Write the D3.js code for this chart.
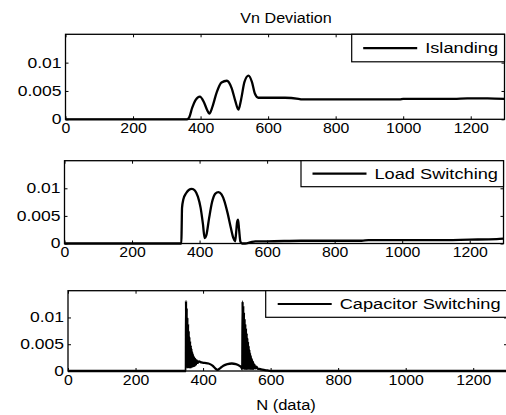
<!DOCTYPE html>
<html lang="en">
<head>
    <meta charset="UTF-8">
    <title>Vn Deviation</title>
    <script src="https://d3js.org/d3.v7.min.js"></script>
    <style>
        body { margin: 0; background: #fff; }
        text { font-family: "Liberation Sans", Arial, sans-serif; fill: #000; }
    </style>
</head>
<body>
<div id="chart"></div>

<script>
    // values
    var xTicks = [0, 200, 400, 600, 800, 1000, 1200];
    var yTicks = [0, 0.005, 0.01];
    var yTickLabels = ["0", "0.005", "0.01"];

    var islandingN = [0, 360, 366, 375, 385, 398, 410, 419, 426, 435, 448, 462, 478, 492, 503, 512, 520, 530, 542, 552, 561, 571, 585, 650, 690, 700, 800, 900, 990, 1000, 1020, 1050, 1150, 1190, 1200, 1250, 1300];
    var islandingV = [0, 0, 0.0003, 0.0020, 0.0034, 0.0040, 0.0030, 0.0017, 0.0010, 0.0022, 0.0048, 0.0065, 0.0068, 0.0055, 0.0032, 0.0017, 0.0035, 0.0066, 0.0077, 0.0066, 0.0045, 0.0038, 0.0038, 0.0038, 0.0036, 0.0035, 0.0035, 0.0035, 0.0035, 0.0036, 0.0036, 0.0036, 0.0036, 0.0037, 0.0037, 0.0037, 0.0036];

    var loadN = [0, 346, 347, 348, 352, 360, 368, 377, 386, 395, 403, 410, 415, 420, 428, 437, 446, 456, 465, 474, 483, 492, 500, 505, 508, 511, 514, 517, 521, 526, 535, 545, 555, 565, 600, 700, 800, 880, 900, 1000, 1100, 1200, 1280, 1300];
    var loadV = [0, 0, 0.0030, 0.0064, 0.0080, 0.0091, 0.0097, 0.0099, 0.0096, 0.0085, 0.0065, 0.0035, 0.0010, 0.0015, 0.0045, 0.0075, 0.0090, 0.0093, 0.0089, 0.0076, 0.0055, 0.0030, 0.0010, 0.0004, 0.0018, 0.0038, 0.0043, 0.0025, 0.0003, 0, 0, 0.0001, 0.0003, 0.0004, 0.0004, 0.0005, 0.0005, 0.0005, 0.0006, 0.0006, 0.0006, 0.0007, 0.0008, 0.0009];

    var capN = [0, 349, 349.5, 350.5, 351.5, 352.5, 353.5, 354.5, 355.5, 356.5, 357.5, 358.5, 359.5, 360.5, 361.5, 362.5, 363.5, 364.5, 365.5, 366.5, 367.5, 368.5, 369.5, 370.5, 371.5, 372.5, 374, 375.5, 377, 379, 381, 384, 388, 395, 405, 416, 428, 436, 443, 450, 460, 472, 485, 497, 507, 514, 516,
        517, 518, 519, 520, 521, 522, 523, 524, 525, 526, 527, 528, 529, 530, 531, 532, 533, 534, 535, 536, 537, 538, 539, 540, 541.5, 543, 544.5, 546, 548, 550, 552, 555, 558, 562, 566, 572, 580, 590, 600, 1300];
    var capV = [0, 0, 0.0131, 0.0008, 0.0118, 0.0007, 0.0100, 0.0007, 0.0088, 0.0007, 0.0075, 0.0007, 0.0064, 0.0007, 0.0056, 0.0007, 0.0048, 0.0007, 0.0042, 0.0008, 0.0036, 0.0008, 0.0032, 0.0009, 0.0028, 0.0009, 0.0025, 0.0010, 0.0022, 0.0012, 0.0020, 0.0015, 0.0018, 0.0016, 0.0015, 0.0014, 0.0010, 0.0005, 0.0002, 0.0005, 0.0010, 0.0013, 0.0014, 0.0013, 0.0010, 0.0006, 0.0003,
        0.0130, 0.0005, 0.0122, 0.0004, 0.0110, 0.0004, 0.0098, 0.0004, 0.0088, 0.0004, 0.0080, 0.0004, 0.0071, 0.0004, 0.0062, 0.0004, 0.0055, 0.0004, 0.0047, 0.0004, 0.0040, 0.0004, 0.0034, 0.0004, 0.0028, 0.0004, 0.0022, 0.0004, 0.0017, 0.0004, 0.0012, 0.0005, 0.0008, 0.0004, 0.0004, 0.0003, 0.0002, 0.0001, 0, 0];

    var panels = [
        {name: "Islanding", n: islandingN, v: islandingV, left: 65.5, top: 34.3, bottom: 119.3, legendX: 351.7, legendH: 27.5, lineStart: 11.5},
        {name: "Load Switching", n: loadN, v: loadV, left: 64.5, top: 160.7, bottom: 243.5, legendX: 301, legendH: 26, lineStart: 11.5},
        {name: "Capacitor Switching", n: capN, v: capV, left: 68, top: 290.7, bottom: 371, legendX: 265.7, legendH: 26.6, lineStart: 12}
    ];

    var plotW = 439;

    // the picture's lettering is wider than plain Arial, so stretch each text a bit
    function stretch(sel, k) {
        sel.each(function() {
            var w = this.getComputedTextLength();
            d3.select(this)
                .attr("textLength", w * k)
                .attr("lengthAdjust", "spacingAndGlyphs");
        });
    }

    var svg = d3.select("#chart")
        .append("svg")
            .attr("width", 506)
            .attr("height", 415)
            .style("background", "#fff");

    // title
    svg.append("text")
        .attr("x", 286)
        .attr("y", 23)
        .style("text-anchor", "middle")
        .style("font-size", "14px")
        .text("Vn Deviation")
        .call(stretch, 1.15);

    panels.forEach(function(p) {
        var h = p.bottom - p.top;
        var g = svg.append("g")
            .attr("transform", "translate(" + p.left + "," + p.top + ")");

        var x = d3.scaleLinear().domain([0, 1300]).range([0, plotW]);
        var y = d3.scaleLinear().domain([0, 0.015]).range([h, 0]);

        // bottom axis with inward ticks
        var xb = g.append("g")
            .attr("transform", "translate(0," + h + ")")
            .call(d3.axisBottom(x).tickValues(xTicks).tickFormat(d3.format("d"))
                .tickSizeInner(-3).tickSizeOuter(0).tickPadding(4));
        xb.selectAll("text").style("font-size", "14px").call(stretch, 1.13);

        // top ticks
        g.append("g")
            .call(d3.axisTop(x).tickValues(xTicks).tickSizeInner(-3).tickSizeOuter(0).tickFormat(""));

        // left axis
        var yl = g.append("g")
            .call(d3.axisLeft(y).tickValues(yTicks).tickSizeInner(-3).tickSizeOuter(0).tickPadding(4)
                .tickFormat(function(d, i) { return yTickLabels[i]; }));
        yl.selectAll("text").style("font-size", "14px").call(stretch, 1.25);

        // right ticks
        g.append("g")
            .attr("transform", "translate(" + plotW + ",0)")
            .call(d3.axisRight(y).tickValues(yTicks).tickSizeInner(-3).tickSizeOuter(0).tickFormat(""));

        g.selectAll(".domain").remove();
        g.selectAll(".tick line").attr("stroke", "#000").attr("stroke-width", 1);

        // frame
        g.append("rect")
            .attr("width", plotW)
            .attr("height", h)
            .attr("fill", "none")
            .attr("stroke", "#000")
            .attr("stroke-width", 1.3);

        var pts = p.n.map(function(d, i) { return [d, p.v[i]]; });
        var line = d3.line()
            .x(function(d) { return x(d[0]); })
            .y(function(d) { return y(d[1]); })
            .curve(d3.curveMonotoneX);

        g.append("path")
            .datum(pts)
            .attr("d", line)
            .attr("fill", "none")
            .attr("stroke", "#000")
            .attr("stroke-width", 2.3)
            .attr("stroke-linejoin", "round");

        // legend box
        var lx = p.legendX - p.left;
        var lg = g.append("g").attr("transform", "translate(" + lx + ",0)");
        lg.append("rect")
            .attr("width", plotW - lx)
            .attr("height", p.legendH)
            .attr("fill", "#fff")
            .attr("stroke", "#000")
            .attr("stroke-width", 1.2);
        lg.append("line")
            .attr("x1", p.lineStart)
            .attr("x2", p.lineStart + 54)
            .attr("y1", p.legendH / 2)
            .attr("y2", p.legendH / 2)
            .attr("stroke", "#000")
            .attr("stroke-width", 2.2);
        lg.append("text")
            .attr("x", p.lineStart + 62)
            .attr("y", p.legendH / 2 + 5)
            .style("font-size", "14px")
            .text(p.name)
            .call(stretch, 1.3);
    });

    // x label
    svg.append("text")
        .attr("x", 286)
        .attr("y", 410)
        .style("text-anchor", "middle")
        .style("font-size", "14px")
        .text("N (data)")
        .call(stretch, 1.18);
</script>
</body>
</html>
